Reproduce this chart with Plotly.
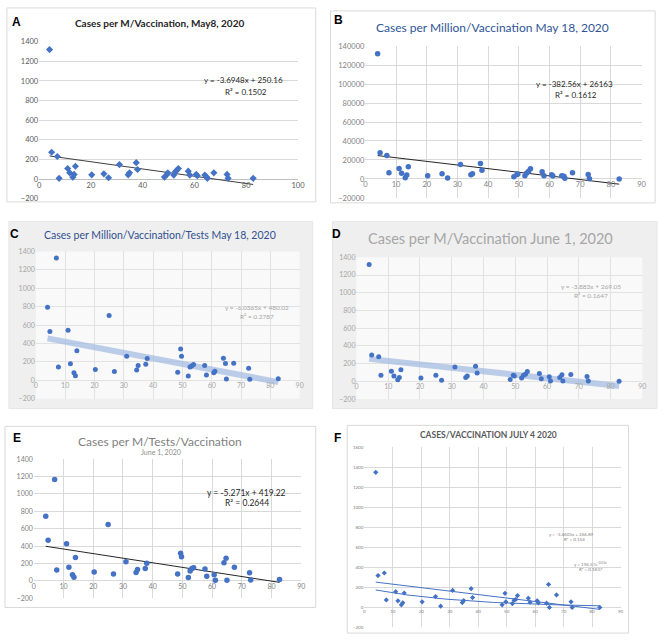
import numpy as np
import plotly.graph_objects as go

W, H = 669, 642

# ---------------- data ----------------
vaccination = [4.0, 4.8, 7.0, 7.7, 11.0, 11.8, 13.0, 13.5, 14.0,
               20.3, 25.0, 26.8, 31.0, 34.4, 34.9, 37.5, 38.0,
               48.4, 49.4, 49.7, 52.0, 52.6, 53.2, 53.8,
               57.6, 58.2, 60.7, 61.1,
               64.0, 64.7, 65.0, 67.5,
               72.6, 73.0, 82.7]

cases_may8 = [1320, 273, 230, 7, 107, 63, 18, 47, 130,
              43, 53, 13, 147, 43, 63, 167, 97,
              20, 47, 63, 40, 73, 90, 107,
              80, 40, 47, 33,
              40, 20, 7, 63,
              47, 7, 7]

cases_may18 = [132000, 27600, 24800, 6550, 11000, 5900, 1400, 4100, 12800,
               3400, 5500, 1000, 15200, 4500, 5500, 16200, 9300,
               2400, 4800, 5200, 3400, 6200, 8000, 10700,
               7600, 3400, 4500, 3100,
               3400, 2800, 700, 6550,
               4800, 300, 0]

cases_tests_may18 = [793, 529, 1329, 146, 543, 179, 82, 50, 321,
                     118, 704, 96, 261, 111, 161, 175, 236,
                     89, 339, 261, 46, 146, 157, 171,
                     161, 57, 82, 100,
                     239, 182, 14, 186,
                     132, 11, 18]

cases_june1 = [1320, 296, 278, 70, 115, 59, 19, 44, 130,
               37, 70, 11, 163, 44, 59, 170, 93,
               22, 70, 59, 37, 70, 80, 111,
               89, 30, 52, 4,
               44, 74, 4, 78,
               56, 4, 0]

cases_tests_june1 = [743, 468, 1166, 125, 426, 158, 72, 42, 268,
                     102, 649, 79, 219, 98, 132, 143, 204,
                     79, 317, 279, 38, 113, 143, 151,
                     136, 53, 72, 8,
                     208, 260, 8, 158,
                     94, 11, 15]

cases_july4 = [1350, 318, 344, 75, 157, 66, 26, 46, 144,
               56, 108, 13, 170, 49, 69, 187, 98,
               26, 141, 56, 39, 72, 80, 118,
               92, 52, 66, 46,
               43, 230, 0, 125,
               56, 0, 0]

# trendline coefficients as printed on the charts
slopes = [-3.6948, -382.56, -6.0365, -3.883, -5.271, -3.4603]
intercepts = [250.16, 26163, 480.02, 269.05, 419.22, 266.89]
r_squared = ["0.1502", "0.1612", "0.2787", "0.1647", "0.2644", "0.154"]
exp_coef, exp_rate, exp_r2 = 196.57, -0.03, "0.1837"

titles = ["Cases per M/Vaccination, May8, 2020",
          "Cases per Million/Vaccination May 18, 2020",
          "Cases per Million/Vaccination/Tests May 18, 2020",
          "Cases per M/Vaccination June 1, 2020",
          "Cases per M/Tests/Vaccination",
          "CASES/VACCINATION JULY 4 2020"]
subtitle_e = "June 1, 2020"
letters = ["A", "B", "C", "D", "E", "F"]
series = [cases_may8, cases_may18, cases_tests_may18, cases_june1,
          cases_tests_june1, cases_july4]

# ---------------- styles / layout (pixel boxes) ----------------
FONT = "Lato"
styles = [
    dict(frame=(5, 3, 318, 200), ffill="white", fline="#D9D9D9",
         plot=(37.7, 37.3, 300, 196.7), pfill="white",
         xr=[0, 100], xd=20, yr=[-200, 1400], yd=200, vgrid=False,
         grid="#D9D9D9", zero="#BFBFBF", tick=7.5, tickc="#595959",
         sym="diamond", msize=5.5, tline=dict(color="#404040", width=1),
         title=dict(pos=(160, 18), size=10, color="#262626", bold=True, font=FONT),
         lab=(15, 17), eq=[(245, 76), (247, 88)], eqsize=8, eqc="#262626"),
    dict(frame=(333, 6, 662, 201), ffill="white", fline="#D9D9D9",
         plot=(368.3, 41.7, 648.3, 196), pfill="white",
         xr=[0, 90], xd=10, yr=[-20000, 140000], yd=20000, vgrid=True,
         grid="#D9D9D9", zero="#D9D9D9", tick=7.5, tickc="#7F7F7F",
         sym="circle", msize=5.5, tline=dict(color="#262626", width=1),
         title=dict(pos=(497, 23), size=12, color="#2F5597", bold=False, font=FONT),
         lab=(341, 15), eq=[(580, 80), (582, 91)], eqsize=8, eqc="#262626"),
    dict(frame=(7, 220, 315, 410), ffill="#EFEFEF", fline="#E6E6E6",
         plot=(34.3, 250.3, 301.7, 400), pfill="#F9F9F9",
         xr=[0, 90], xd=10, yr=[-200, 1400], yd=200, vgrid=True,
         grid="#E2E2E2", zero="#E2E2E2", tick=7, tickc="#A6A6A6",
         sym="circle", msize=5, tline=dict(color="rgba(160,185,225,0.7)", width=6),
         title=dict(pos=(160, 234), size=10.5, color="#2F4F8F", bold=False, font=FONT),
         lab=(13, 233), eq=[(258, 307), (258, 316)], eqsize=6.5, eqc="#A6A6A6"),
    dict(frame=(335, 220, 664, 410), ffill="#EFEFEF", fline="#E6E6E6",
         plot=(359.3, 256.3, 649, 400.3), pfill="#F9F9F9",
         xr=[0, 90], xd=10, yr=[-200, 1400], yd=200, vgrid=True,
         grid="#E2E2E2", zero="#E2E2E2", tick=7, tickc="#A6A6A6",
         sym="circle", msize=5, tline=dict(color="rgba(160,185,225,0.7)", width=6),
         title=dict(pos=(495, 237), size=14.5, color="#A6A6A6", bold=False, font=FONT),
         lab=(339, 233), eq=[(597, 286), (597, 295)], eqsize=6.5, eqc="#A6A6A6"),
    dict(frame=(3, 428, 318, 612), ffill="white", fline="#D9D9D9",
         plot=(32.3, 461.3, 303.3, 602.7), pfill="white",
         xr=[0, 90], xd=10, yr=[-200, 1400], yd=200, vgrid=True,
         grid="#D9D9D9", zero="#D9D9D9", tick=7, tickc="#7F7F7F",
         sym="circle", msize=5.5, tline=dict(color="#262626", width=1),
         title=dict(pos=(160, 443), size=12, color="#7F7F7F", bold=False, font=FONT),
         lab=(15, 440), eq=[(248, 496), (248, 506)], eqsize=8.5, eqc="#262626"),
    dict(frame=(350, 427, 635, 638), ffill="white", fline="#D9D9D9",
         plot=(367.3, 449.3, 627, 632.3), pfill="white",
         xr=[0, 90], xd=10, yr=[-200, 1600], yd=200, vgrid=True,
         grid="#D9D9D9", zero="#D9D9D9", tick=4.5, tickc="#7F7F7F",
         sym="diamond", msize=4, tline=dict(color="#4472C4", width=1),
         title=dict(pos=(493, 437), size=8.5, color="#595959", bold=True, font=FONT),
         lab=(340, 440), eq=[(577, 538), (580, 543)], eqsize=4.5, eqc="#7F7F7F"),
]


def fx(px):
    return px / W


def fy(py):
    return 1 - py / H


fig = go.Figure()
shapes = []
annotations = []
layout = {}

for i, (st, yv) in enumerate(zip(styles, series)):
    n = i + 1
    xname = "x" if n == 1 else f"x{n}"
    yname = "y" if n == 1 else f"y{n}"
    xkey = "xaxis" if n == 1 else f"xaxis{n}"
    ykey = "yaxis" if n == 1 else f"yaxis{n}"
    l, t, r, b = st["plot"]
    fl, ft, fr, fb = st["frame"]
    shapes.append(dict(type="rect", xref="paper", yref="paper", layer="below",
                       x0=fx(fl), x1=fx(fr), y0=fy(fb), y1=fy(ft),
                       fillcolor=st["ffill"], line=dict(color=st["fline"], width=1)))
    shapes.append(dict(type="rect", xref="paper", yref="paper", layer="below",
                       x0=fx(l), x1=fx(r), y0=fy(b), y1=fy(t),
                       fillcolor=st["pfill"], line=dict(width=0)))
    y0px = t + (st["yr"][1] - 0) / (st["yr"][1] - st["yr"][0]) * (b - t)
    tf = dict(family=FONT, size=st["tick"], color=st["tickc"])
    layout[xkey] = dict(domain=[fx(l), fx(r)], range=st["xr"], dtick=st["xd"], tick0=0,
                        showgrid=st["vgrid"], gridcolor=st["grid"], gridwidth=0.8,
                        zeroline=False, showline=False, ticks="",
                        anchor="free", position=fy(y0px), tickfont=tf,
                        fixedrange=True)
    layout[ykey] = dict(domain=[fy(b), fy(t)], range=st["yr"], dtick=st["yd"], tick0=0,
                        showgrid=True, gridcolor=st["grid"], gridwidth=0.8,
                        zeroline=True, zerolinecolor=st["zero"], zerolinewidth=1,
                        showline=False, ticks="", anchor=xname, tickfont=tf,
                        tickformat="d", fixedrange=True)

    # trendline (from printed coefficients)
    xs = [min(vaccination), max(vaccination)]
    fig.add_trace(go.Scatter(x=xs, y=[slopes[i] * v + intercepts[i] for v in xs],
                             mode="lines", line=st["tline"], xaxis=xname, yaxis=yname,
                             hoverinfo="skip", showlegend=False))
    if n == 6:
        xe = np.linspace(min(vaccination), max(vaccination), 60)
        fig.add_trace(go.Scatter(x=xe, y=exp_coef * np.exp(exp_rate * xe),
                                 mode="lines", line=st["tline"], xaxis=xname, yaxis=yname,
                                 hoverinfo="skip", showlegend=False))
    fig.add_trace(go.Scatter(x=vaccination, y=yv, mode="markers",
                             marker=dict(symbol=st["sym"], size=st["msize"], color="#4472C4",
                                         line=dict(width=0)),
                             xaxis=xname, yaxis=yname, showlegend=False))

    ti = st["title"]
    txt = f"<b>{titles[i]}</b>" if ti["bold"] else titles[i]
    annotations.append(dict(text=txt, x=fx(ti["pos"][0]), y=fy(ti["pos"][1]),
                            xref="paper", yref="paper", showarrow=False,
                            xanchor="center", yanchor="middle",
                            font=dict(family=ti["font"], size=ti["size"], color=ti["color"])))
    annotations.append(dict(text=f"<b>{letters[i]}</b>", x=fx(st["lab"][0]), y=fy(st["lab"][1]),
                            xref="paper", yref="paper", showarrow=False,
                            xanchor="center", yanchor="middle",
                            font=dict(family="Liberation Sans", size=12, color="black")))
    sign = "-" if slopes[i] < 0 else "+"
    eq1 = f"y = {sign}{abs(slopes[i])}x + {intercepts[i]}"
    eq2 = f"R² = {r_squared[i]}"
    for (ex, ey), etxt in zip(st["eq"], [eq1, eq2]):
        annotations.append(dict(text=etxt, x=fx(ex), y=fy(ey), xref="paper", yref="paper",
                                showarrow=False, xanchor="center", yanchor="middle",
                                font=dict(family=FONT, size=st["eqsize"], color=st["eqc"])))
    if n == 5:
        annotations.append(dict(text=subtitle_e, x=fx(161), y=fy(454.5), xref="paper",
                                yref="paper", showarrow=False, xanchor="center",
                                yanchor="middle",
                                font=dict(family=FONT, size=7, color="#8C8C8C")))
    if n == 6:
        for (ex, ey), etxt in zip([(597, 568), (597, 573)],
                                  [f"y = {exp_coef}e<sup>{exp_rate}x</sup>", f"R² = {exp_r2}"]):
            annotations.append(dict(text=etxt, x=fx(ex), y=fy(ey), xref="paper", yref="paper",
                                    showarrow=False, xanchor="center", yanchor="middle",
                                    font=dict(family=FONT, size=st["eqsize"], color=st["eqc"])))

fig.update_layout(width=W, height=H, margin=dict(l=0, r=0, t=0, b=0),
                  paper_bgcolor="white", plot_bgcolor="rgba(0,0,0,0)",
                  shapes=shapes, annotations=annotations, showlegend=False,
                  font=dict(family=FONT), **layout)

fig.write_html("out.html", config={"displayModeBar": False},
               post_script="document.body.style.margin='0';document.body.style.padding='0';")
